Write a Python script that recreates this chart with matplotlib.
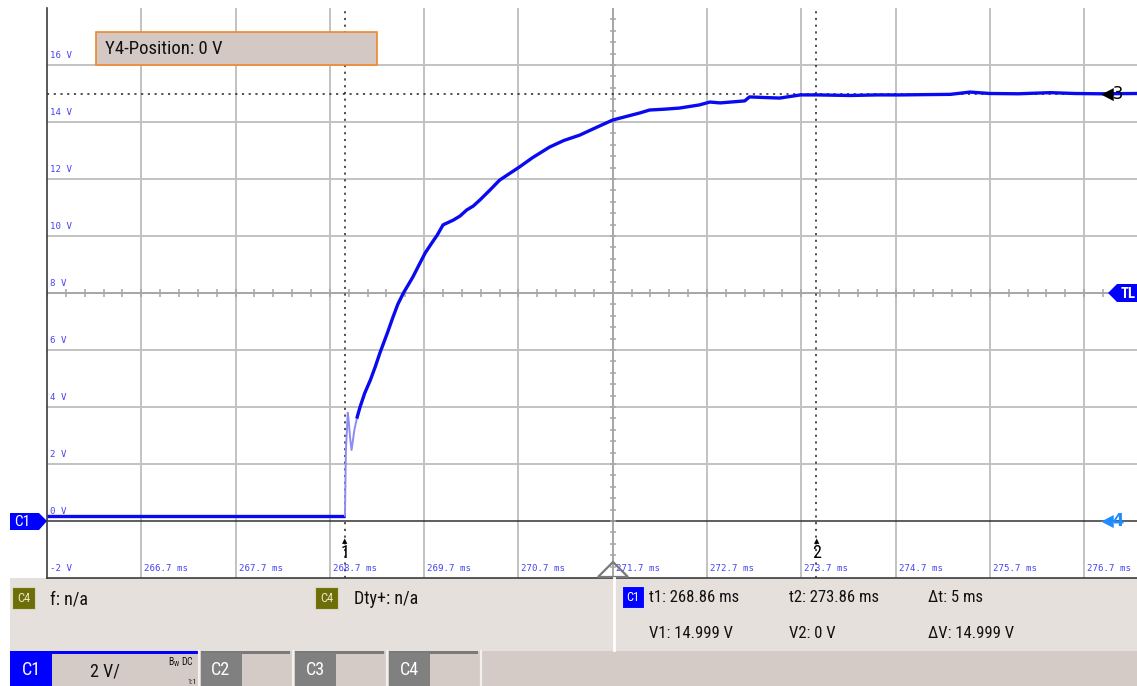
#!/usr/bin/env python3
"""Oscilloscope screenshot: C1 step response rising to 15 V."""

import matplotlib

matplotlib.use("Agg")

import matplotlib.pyplot as plt
from matplotlib import font_manager
from matplotlib.patches import Polygon, Rectangle
import numpy as np

W, H = 1137, 686

# --- data (ms, V) ---------------------------------------------------------
FLAT_T = [265.70, 268.86]
FLAT_V = [0.19, 0.19]

SPIKE_T = [268.86, 268.87, 268.89, 268.90, 268.915, 268.93, 268.96, 268.99]
SPIKE_V = [0.19, 2.50, 3.80, 3.50, 2.90, 2.49, 3.20, 3.65]

RISE_T = [268.99, 269.02, 269.07, 269.13, 269.18, 269.23, 269.31, 269.37,
          269.42, 269.48, 269.58, 269.64, 269.71, 269.78, 269.84, 269.90,
          270.01, 270.08, 270.15, 270.22, 270.29, 270.40, 270.50, 270.60,
          270.71, 270.85, 271.03, 271.18, 271.35, 271.52, 271.70, 271.85,
          271.99, 272.09, 272.25, 272.41, 272.62, 272.73, 272.84, 272.95,
          273.10, 273.15, 273.30, 273.47, 273.69, 273.87, 274.22, 274.50,
          274.75, 275.00, 275.28, 275.49, 275.70, 276.00, 276.34, 276.60,
          276.87, 277.26]
RISE_V = [3.65, 4.00, 4.49, 4.95, 5.40, 5.89, 6.60, 7.16,
          7.60, 8.00, 8.56, 8.95, 9.40, 9.75, 10.04, 10.39,
          10.56, 10.70, 10.91, 11.05, 11.26, 11.62, 11.96, 12.18,
          12.42, 12.75, 13.12, 13.35, 13.54, 13.80, 14.07, 14.20,
          14.32, 14.42, 14.45, 14.49, 14.60, 14.70, 14.67, 14.70,
          14.74, 14.88, 14.86, 14.84, 14.95, 14.95, 14.93, 14.95,
          14.95, 14.96, 14.97, 15.05, 15.00, 14.99, 15.03, 15.00,
          14.99, 15.00]

T_MIN, T_MAX = 265.70, 277.26
V_MIN, V_MAX = -2, 18
TIME_TICKS = [266.7, 267.7, 268.7, 269.7, 270.7, 271.7, 272.7, 273.7, 274.7, 275.7, 276.7]
VOLT_TICKS = [-2, 0, 2, 4, 6, 8, 10, 12, 14, 16]
T_CENTER, V_CENTER = 271.7, 8
CURSOR_T = [268.86, 273.86]
CURSOR_V = 15.0

INFO_ROW1 = ["t1: 268.86 ms", "t2: 273.86 ms", "\u0394t: 5 ms"]
INFO_ROW2 = ["V1: 14.999 V", "V2: 0 V", "\u0394V: 14.999 V"]

COLORS = {
    "trace": "#0a0af0",
    "spike": "#8c8cf6",
    "grid": "#c2c2c2",
    "center": "#a6a6a6",
    "label": "#4646f0",
    "panel": "#e6e0dd",
    "tabbar": "#d4cac6",
    "tabdark": "#808080",
    "olive": "#6e6e08",
    "blue": "#0000ff",
    "ch4": "#1e8cff",
}


def pick_font(cands, default):
    names = {f.name for f in font_manager.fontManager.ttflist}
    for c in cands:
        if c in names:
            return c
    return default


NARROW = pick_font(["Liberation Sans Narrow", "Roboto Condensed", "Open Sans Condensed"], "Liberation Sans")
MONO = "DejaVu Sans Mono"

fig = plt.figure(figsize=(W / 100, H / 100), dpi=100)
fig.patch.set_facecolor("white")

# background layer in pixel coordinates
bg = fig.add_axes([0, 0, 1, 1], zorder=0)
bg.set_xlim(0, W)
bg.set_ylim(H, 0)
bg.axis("off")
bg.add_patch(Rectangle((10, 578), W - 10, 73, fc=COLORS["panel"], ec="none"))
bg.add_patch(Rectangle((10, 651), W - 10, 35, fc=COLORS["tabbar"], ec="none"))

# plot area
ax = fig.add_axes([47 / W, 1 - 578 / H, (W - 47) / W, 570 / H], zorder=1)
ax.set_facecolor("white")
ax.set_xlim(T_MIN, T_MAX)
ax.set_ylim(V_MIN, V_MAX)
ax.set_xticks([])
ax.set_yticks([])
for side in ("top", "right"):
    ax.spines[side].set_visible(False)
for side in ("left", "bottom"):
    ax.spines[side].set_color("#3c3c3c")
    ax.spines[side].set_linewidth(1.2)

for t in TIME_TICKS:
    ax.axvline(t, color=COLORS["center"] if t == T_CENTER else COLORS["grid"], lw=1.4, zorder=1)
for v in VOLT_TICKS[2:]:
    ax.axhline(v, color=COLORS["center"] if v == V_CENTER else COLORS["grid"], lw=1.4, zorder=1)
ax.axhline(0, color="#333333", lw=1.1, zorder=1)

# minor ticks on the centre cross
minor_t = np.arange(T_MIN, T_MAX, 0.2)
ax.plot(minor_t, np.full_like(minor_t, V_CENTER), ls="none", marker="|", ms=6, mew=1.1,
        color=COLORS["center"], zorder=1)
minor_v = np.arange(V_MIN, V_MAX, 0.4)
ax.plot(np.full_like(minor_v, T_CENTER), minor_v, ls="none", marker="_", ms=5, mew=1.1,
        color=COLORS["center"], zorder=1)

# cursors
ax.axhline(CURSOR_V, color="#222222", lw=1.1, ls=(0, (1.4, 3)), zorder=2)
for t in CURSOR_T:
    ax.axvline(t, color="#222222", lw=1.1, ls=(0, (1.4, 3)), zorder=2)

# trace
ax.plot(FLAT_T, FLAT_V, color=COLORS["trace"], lw=2.4, zorder=4, solid_capstyle="butt")
ax.plot(SPIKE_T, SPIKE_V, color=COLORS["spike"], lw=1.4, zorder=4)
ax.plot(RISE_T, RISE_V, color=COLORS["trace"], lw=2.4, zorder=4, solid_joinstyle="round")

# axis labels drawn inside the grid
for v in VOLT_TICKS:
    ax.annotate(f"{v} V", xy=(T_MIN, v), xytext=(3, 5), textcoords="offset pixels",
                ha="left", va="bottom", fontsize=6.6, family=MONO, color=COLORS["label"], zorder=3)
for t in TIME_TICKS:
    ax.annotate(f"{t:.1f} ms", xy=(t, V_MIN), xytext=(3, 5), textcoords="offset pixels",
                ha="left", va="bottom", fontsize=6.6, family=MONO, color=COLORS["label"], zorder=3)

# cursor numbers
for i, t in enumerate(CURSOR_T, start=1):
    ax.annotate(str(i), xy=(t, V_MIN), xytext=(0, 25), textcoords="offset pixels",
                ha="center", va="center", fontsize=13, family=NARROW, color="black", zorder=5)
    ax.annotate("\u25b2", xy=(t, V_MIN), xytext=(0, 37), textcoords="offset pixels",
                ha="center", va="center", fontsize=5, color="black", zorder=5)
ax.annotate("\u25c03", xy=(T_MAX, CURSOR_V), xytext=(-36, 0), textcoords="offset pixels",
            ha="left", va="center", fontsize=12, family=["DejaVu Sans"], color="black", zorder=5)
ax.annotate("\u25c04", xy=(T_MAX, 0), xytext=(-36, 0), textcoords="offset pixels",
            ha="left", va="center", fontsize=12, family=["DejaVu Sans"], weight="bold",
            color=COLORS["ch4"], zorder=5)

# overlay layer in pixel coordinates (scope chrome)
ov = fig.add_axes([0, 0, 1, 1], zorder=3)
ov.set_xlim(0, W)
ov.set_ylim(H, 0)
ov.patch.set_alpha(0)
ov.axis("off")

# trigger triangle
ov.add_patch(Polygon([(598, 577), (628, 577), (613, 562)], closed=True, fc="none",
                     ec="#7a7a7a", lw=1.6))
# C1 marker and TL marker
ov.add_patch(Polygon([(10, 513), (39, 513), (47, 521), (39, 530), (10, 530)], fc=COLORS["blue"], ec="none"))
ov.text(22, 522, "C1", color="white", fontsize=11, family=NARROW, ha="center", va="center")
ov.add_patch(Polygon([(1108, 293), (1117, 284), (1137, 284), (1137, 302), (1117, 302)], fc=COLORS["blue"], ec="none"))
ov.text(1128, 294, "TL", color="white", fontsize=10.5, family=NARROW, weight="bold", ha="center", va="center")

# Y4 position box
ov.add_patch(Rectangle((96, 32), 281, 33, fc="#d4c8c4", ec="#f0882c", lw=1.2))
ov.text(105, 49, "Y4-Position: 0 V", fontsize=13.5, family=NARROW, color="#111111", va="center")

# measurement panel
for x0 in (12, 315):
    ov.add_patch(Rectangle((x0, 587), 23, 22, fc=COLORS["olive"], ec="#d8d8c0", lw=0.8))
    ov.text(x0 + 11.5, 598.5, "C4", color="#e8e8c8", fontsize=9, family=NARROW, ha="center", va="center")
ov.text(50, 599, "f: n/a", fontsize=13, family=NARROW, color="#111111", va="center")
ov.text(354, 599, "Dty+: n/a", fontsize=13, family=NARROW, color="#111111", va="center")

ov.plot([614, 614], [578, 650], color="white", lw=2)
ov.add_patch(Rectangle((622, 586), 22, 22, fc=COLORS["blue"], ec="#e0e0ff", lw=0.8))
ov.text(633, 597.5, "C1", color="white", fontsize=9, family=NARROW, ha="center", va="center")
for x0, s1, s2 in zip((649, 789, 928), INFO_ROW1, INFO_ROW2):
    ov.text(x0, 598, s1, fontsize=12, family=[NARROW, "DejaVu Sans"], color="#111111", va="center")
    ov.text(x0, 633, s2, fontsize=12, family=[NARROW, "DejaVu Sans"], color="#111111", va="center")

# channel tabs
ov.add_patch(Rectangle((10, 651), 188, 2.5, fc=COLORS["blue"], ec="none"))
ov.add_patch(Rectangle((10, 653), 42, 33, fc=COLORS["blue"], ec="none"))
ov.text(31, 670, "C1", color="white", fontsize=13, family=NARROW, ha="center", va="center")
ov.text(105, 672, "2 V/", color="#111111", fontsize=13, family=NARROW, ha="center", va="center")
ov.text(181, 662, r"B$_\mathregular{W}$ DC", color="#111111", fontsize=7, family=NARROW, ha="center", va="center")
ov.text(192, 682, "1:1", color="#111111", fontsize=5.5, family=NARROW, ha="center", va="center")
for x0, name in zip((201, 295, 389), ("C2", "C3", "C4")):
    ov.add_patch(Rectangle((x0, 651), 89, 2.5, fc="#7a7a7a", ec="none"))
    ov.add_patch(Rectangle((x0, 653), 41, 33, fc=COLORS["tabdark"], ec="none"))
    ov.text(x0 + 20, 670, name, color="white", fontsize=13, family=NARROW, ha="center", va="center")
for xs in (199, 293, 387, 481):
    ov.plot([xs, xs], [651, 686], color="#f4f0ee", lw=1.6)

fig.savefig("out.png", dpi=100, facecolor="white")
